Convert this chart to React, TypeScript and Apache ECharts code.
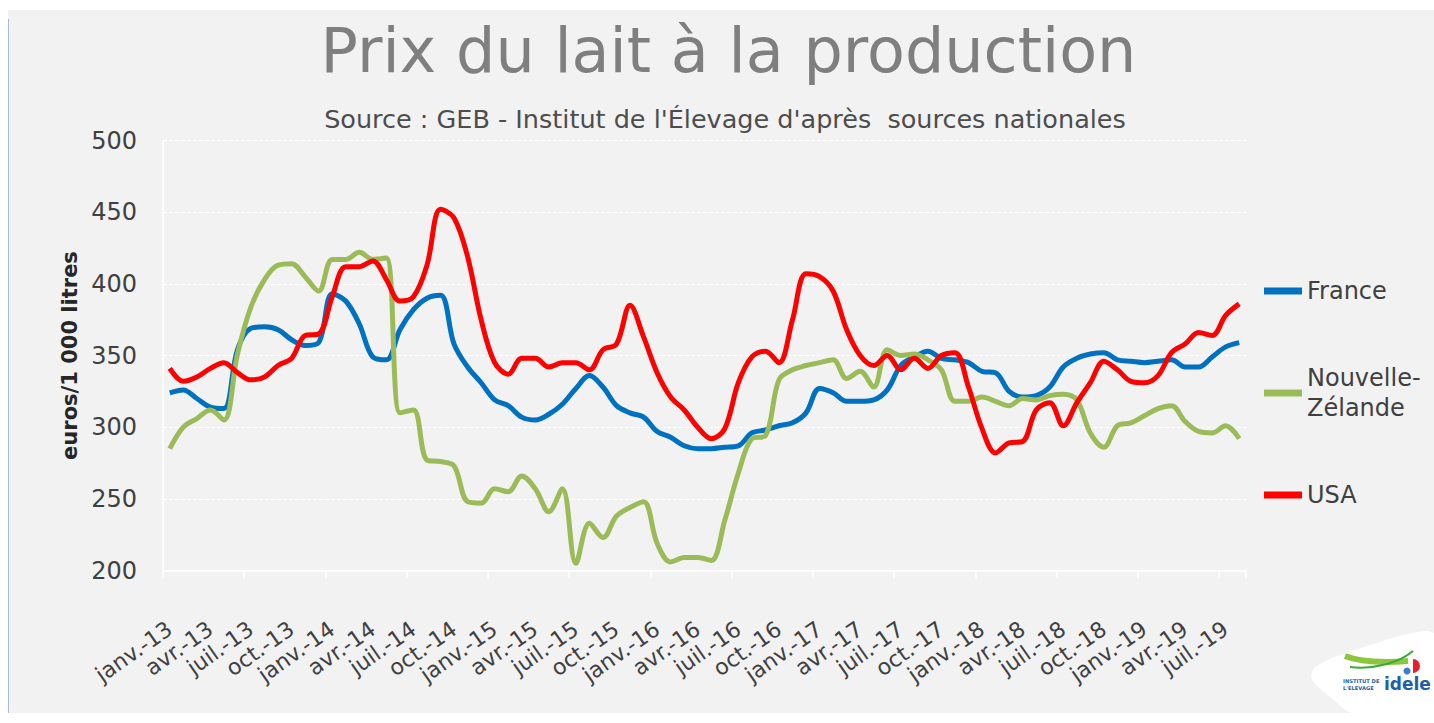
import React, { useEffect, useRef } from "react";
import * as echarts from "echarts";

const MONTHS = ["janv.", "févr.", "mars", "avr.", "mai", "juin", "juil.", "août", "sept.", "oct.", "nov.", "déc."];
const YEARS = ["13", "14", "15", "16", "17", "18", "19"];
const N_MONTHS = 80;
const categories = YEARS.flatMap((y) => MONTHS.map((m) => `${m}-${y}`)).slice(0, N_MONTHS);

const france = [
  324, 326, 320, 314, 313, 354, 369, 370, 368, 361, 357, 359,
  393, 388, 372, 349, 347, 368, 382, 390, 392, 358, 342, 331,
  319, 315, 307, 305, 309, 316, 327, 336, 328, 315, 310, 307,
  297, 293, 287, 285, 285, 286, 287, 296, 298, 301, 303, 310,
  327, 324, 318, 318, 319, 326, 343, 349, 353, 348, 347, 345,
  339, 338, 325, 321, 322, 328, 342, 348, 351, 352, 347, 346,
  345, 346, 347, 342, 342, 349, 356, 359,
];

const nouvelleZelande = [
  285, 300, 306, 312, 305, 351, 384, 403, 413, 414, 405, 395,
  417, 417, 422, 417, 418, 310, 312, 277, 276, 273, 248, 247,
  257, 255, 266, 257, 241, 257, 205, 233, 223, 238, 244, 248,
  219, 206, 209, 209, 207, 235, 268, 292, 294, 333, 340, 343,
  345, 347, 334, 339, 328, 354, 350, 351, 347, 340, 318, 318,
  321, 318, 315, 320, 319, 322, 323, 319, 296, 286, 301, 303,
  308, 313, 315, 304, 297, 296, 301, 292,
];

const usa = [
  341, 332, 335, 341, 345, 338, 333, 335, 343, 348, 364, 365,
  391, 412, 412, 416, 403, 388, 391, 413, 452, 446, 419, 375,
  345, 337, 348, 348, 342, 345, 345, 340, 354, 358, 385, 363,
  338, 321, 312, 300, 292, 299, 331, 349, 353, 345, 375, 407,
  405, 395, 368, 350, 343, 350, 340, 348, 341, 350, 352, 328,
  299, 282, 289, 290, 312, 317, 301, 317, 331, 346, 340, 332,
  331, 336, 352, 358, 366, 364, 378, 386,
];

const Y_MIN = 200;
const Y_MAX = 500;
const Y_STEP = 50;

const FONT = "DejaVu Sans";
const TEXT = "#404040";

export default function App() {
  const ref = useRef<HTMLDivElement>(null);

  useEffect(() => {
    if (!ref.current) return;
    const chart = echarts.init(ref.current, null, { renderer: "svg" });

    const legendBase = {
      orient: "vertical",
      left: 1264,
      padding: 0,
      itemGap: 0,
      itemWidth: 38,
      itemHeight: 7,
      icon: "rect",
      selectedMode: false,
    };

    const option: any = {
      animation: false,
      backgroundColor: "#ffffff",
      textStyle: { fontFamily: FONT },
      grid: { left: 163, right: 188, top: 140.5, bottom: 152.5 },
      xAxis: {
        type: "category",
        data: categories,
        boundaryGap: true,
        axisLine: { show: true, lineStyle: { color: "#ffffff", width: 1.5 } },
        axisTick: { show: true, interval: 5, length: 8, lineStyle: { color: "#ffffff", width: 1.5 } },
        axisLabel: {
          interval: 2,
          rotate: 35,
          margin: 56,
          fontSize: 22,
          color: TEXT,
          fontFamily: FONT,
        },
        splitLine: { show: false },
      },
      yAxis: {
        type: "value",
        min: Y_MIN,
        max: Y_MAX,
        interval: Y_STEP,
        name: "euros/1 000 litres",
        nameLocation: "middle",
        nameRotate: 90,
        nameGap: 77,
        nameTextStyle: { fontSize: 21, fontWeight: "bold", color: "#262626", fontFamily: FONT },
        axisLine: { show: true, lineStyle: { color: "#ffffff", width: 1.5 } },
        axisTick: { show: false },
        axisLabel: { margin: 26, fontSize: 24, color: TEXT, fontFamily: FONT },
        splitLine: { show: true, lineStyle: { color: "#ffffff", width: 1.2, type: [4, 2] } },
      },
      legend: [
        {
          ...legendBase,
          data: ["France"],
          top: 276,
          textStyle: { fontSize: 24, color: TEXT, fontFamily: FONT, lineHeight: 30 },
        },
        {
          ...legendBase,
          data: ["Nouvelle-Zélande"],
          top: 348,
          formatter: () => "Nouvelle-\nZélande",
          textStyle: { fontSize: 24, color: TEXT, fontFamily: FONT, lineHeight: 30, padding: [30, 0, 0, 0] },
        },
        {
          ...legendBase,
          data: ["USA"],
          top: 480,
          textStyle: { fontSize: 24, color: TEXT, fontFamily: FONT, lineHeight: 30 },
        },
      ],
      series: [
        {
          name: "France",
          type: "line",
          data: france,
          smooth: 0.35,
          symbol: "none",
          lineStyle: { color: "#0070c0", width: 5 },
          itemStyle: { color: "#0070c0" },
        },
        {
          name: "Nouvelle-Zélande",
          type: "line",
          data: nouvelleZelande,
          smooth: 0.35,
          symbol: "none",
          lineStyle: { color: "#9bbb59", width: 5 },
          itemStyle: { color: "#9bbb59" },
        },
        {
          name: "USA",
          type: "line",
          data: usa,
          smooth: 0.35,
          symbol: "none",
          lineStyle: { color: "#ff0000", width: 5 },
          itemStyle: { color: "#ff0000" },
        },
      ],
      graphic: [
        {
          type: "rect",
          z: -100,
          silent: true,
          shape: { x: 8, y: 10, width: 1426, height: 703 },
          style: { fill: "#f2f2f2" },
        },
        {
          type: "line",
          z: -99,
          silent: true,
          shape: { x1: 8.5, y1: 19, x2: 8.5, y2: 713 },
          style: { stroke: "#a9bcd6", lineWidth: 1 },
        },
        {
          type: "text",
          x: 728.5,
          y: 50.5,
          style: {
            text: "Prix du lait à la production",
            fontSize: 62,
            fontFamily: FONT,
            fill: "#7f7f7f",
            align: "center",
            verticalAlign: "middle",
          },
        },
        {
          type: "text",
          x: 725,
          y: 119,
          style: {
            text: "Source : GEB - Institut de l'Élevage d'après  sources nationales",
            fontSize: 25.5,
            fontFamily: FONT,
            fill: "#4d4d4d",
            align: "center",
            verticalAlign: "middle",
          },
        },
        {
          type: "polygon",
          silent: true,
          shape: {
            points: [
              [1434, 633], [1340, 655], [1314, 668], [1312, 680], [1330, 697], [1352, 713], [1434, 713],
            ],
            smooth: 0.25,
          },
          style: { fill: "#ffffff" },
        },
        {
          type: "bezierCurve",
          silent: true,
          shape: { x1: 1345, y1: 656, x2: 1408, y2: 661, cpx1: 1365, cpy1: 664, cpx2: 1395, cpy2: 662 },
          style: { stroke: "#8cc63f", lineWidth: 6, fill: "none" },
        },
        {
          type: "bezierCurve",
          silent: true,
          shape: { x1: 1350, y1: 667, x2: 1413, y2: 651, cpx1: 1375, cpy1: 670, cpx2: 1400, cpy2: 662 },
          style: { stroke: "#3aaa35", lineWidth: 2, fill: "none" },
        },
        {
          type: "circle",
          silent: true,
          shape: { cx: 1407, cy: 671, r: 3.5 },
          style: { fill: "#3a7dc9" },
        },
        {
          type: "sector",
          silent: true,
          shape: { cx: 1413, cy: 666, r0: 0, r: 7, startAngle: -Math.PI / 2, endAngle: Math.PI / 2 },
          style: { fill: "#e5202e" },
        },
        {
          type: "text",
          x: 1343,
          y: 681,
          style: { text: "INSTITUT DE", fontSize: 5.2, fontWeight: "bold", fontFamily: FONT, fill: "#1d5fa8", verticalAlign: "middle" },
        },
        {
          type: "text",
          x: 1343,
          y: 688,
          style: { text: "L'ELEVAGE", fontSize: 5.2, fontWeight: "bold", fontFamily: FONT, fill: "#1d5fa8", verticalAlign: "middle" },
        },
        {
          type: "text",
          x: 1384,
          y: 684,
          style: { text: "idele", fontSize: 17, fontWeight: "bold", fontFamily: FONT, fill: "#1d5fa8", verticalAlign: "middle" },
        },
      ],
    };

    chart.setOption(option);
    return () => chart.dispose();
  }, []);

  return <div ref={ref} style={{ position: "absolute", left: 0, top: 0, width: 1434, height: 723 }} />;
}
